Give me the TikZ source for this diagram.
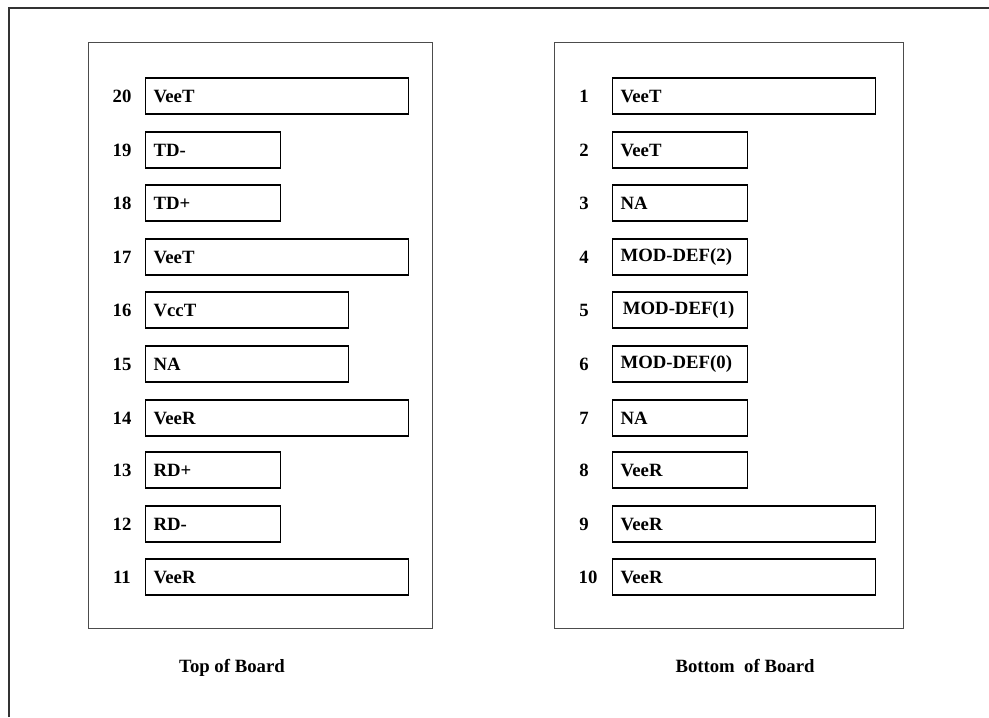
\documentclass[tikz,border=0pt]{standalone}
\usepackage{fontspec}
\setmainfont{Liberation Serif}
\usetikzlibrary{positioning}

\tikzset{
  pin/.style={draw, line width=1pt, anchor=west, minimum height=1.08cm, inner xsep=0.24cm, align=left, font=\fontsize{16}{16}\selectfont\bfseries},
  pinlong/.style={pin, text width=7.41cm},
  pinmid/.style={pin, text width=5.61cm},
  pinshort/.style={pin, text width=3.57cm},
  num/.style={font=\fontsize{16}{16}\selectfont\bfseries},
  board/.style={draw=black!70, line width=0.9pt, anchor=north west, minimum height=17.58cm},
  caption/.style={font=\fontsize{16}{16}\selectfont\bfseries, anchor=base},
}

\begin{document}
\begin{tikzpicture}[x=0.03cm, y=-0.03cm]
    \useasboundingbox (0,0) rectangle (989,717);
    \draw[black!80, line width=1.5pt] (9,717) -- (9,8) -- (989,8);

    % top of board
    \node[board, minimum width=10.32cm] (top) at (88,42) {};
    \node[pinlong]  (p20) at (145,96)  {VeeT};
    \node[pinshort] (p19) at (145,150) {TD-};
    \node[pinshort] (p18) at (145,203) {TD+};
    \node[pinlong]  (p17) at (145,257) {VeeT};
    \node[pinmid]   (p16) at (145,310) {VccT};
    \node[pinmid]   (p15) at (145,364) {NA};
    \node[pinlong]  (p14) at (145,418) {VeeR};
    \node[pinshort] (p13) at (145,470) {RD+};
    \node[pinshort] (p12) at (145,524) {RD-};
    \node[pinlong]  (p11) at (145,577) {VeeR};

    \node[num] (n20) at (122,96)  {20};
    \node[num] (n19) at (122,150) {19};
    \node[num] (n18) at (122,203) {18};
    \node[num] (n17) at (122,257) {17};
    \node[num] (n16) at (122,310) {16};
    \node[num] (n15) at (122,364) {15};
    \node[num] (n14) at (122,418) {14};
    \node[num] (n13) at (122,470) {13};
    \node[num] (n12) at (122,524) {12};
    \node[num] (n11) at (122,577) {11};

    % bottom of board
    \node[board, minimum width=10.47cm] (bottom) at (554,42) {};
    \node[pinlong]  (p1)  at (612,96)  {VeeT};
    \node[pinshort] (p2)  at (612,150) {VeeT};
    \node[pinshort] (p3)  at (612,203) {NA};
    \node[pinshort] (p4)  at (612,257) {MOD-DEF(2)};
    \node[pinshort] (p5)  at (612,310) {\hspace{2pt}MOD-DEF(1)};
    \node[pinshort] (p6)  at (612,364) {MOD-DEF(0)};
    \node[pinshort] (p7)  at (612,418) {NA};
    \node[pinshort] (p8)  at (612,470) {VeeR};
    \node[pinlong]  (p9)  at (612,524) {VeeR};
    \node[pinlong]  (p10) at (612,577) {VeeR};

    \node[num] (n1)  at (584,96)  {1};
    \node[num] (n2)  at (584,150) {2};
    \node[num] (n3)  at (584,203) {3};
    \node[num] (n4)  at (584,257) {4};
    \node[num] (n5)  at (584,310) {5};
    \node[num] (n6)  at (584,364) {6};
    \node[num] (n7)  at (584,418) {7};
    \node[num] (n8)  at (584,470) {8};
    \node[num] (n9)  at (584,524) {9};
    \node[num] (n10) at (588,577) {10};

    \node[caption] (toplabel)    at (232,672) {Top of Board};
    \node[caption] (bottomlabel) at (745,672) {Bottom~ of Board};
\end{tikzpicture}
\end{document}
